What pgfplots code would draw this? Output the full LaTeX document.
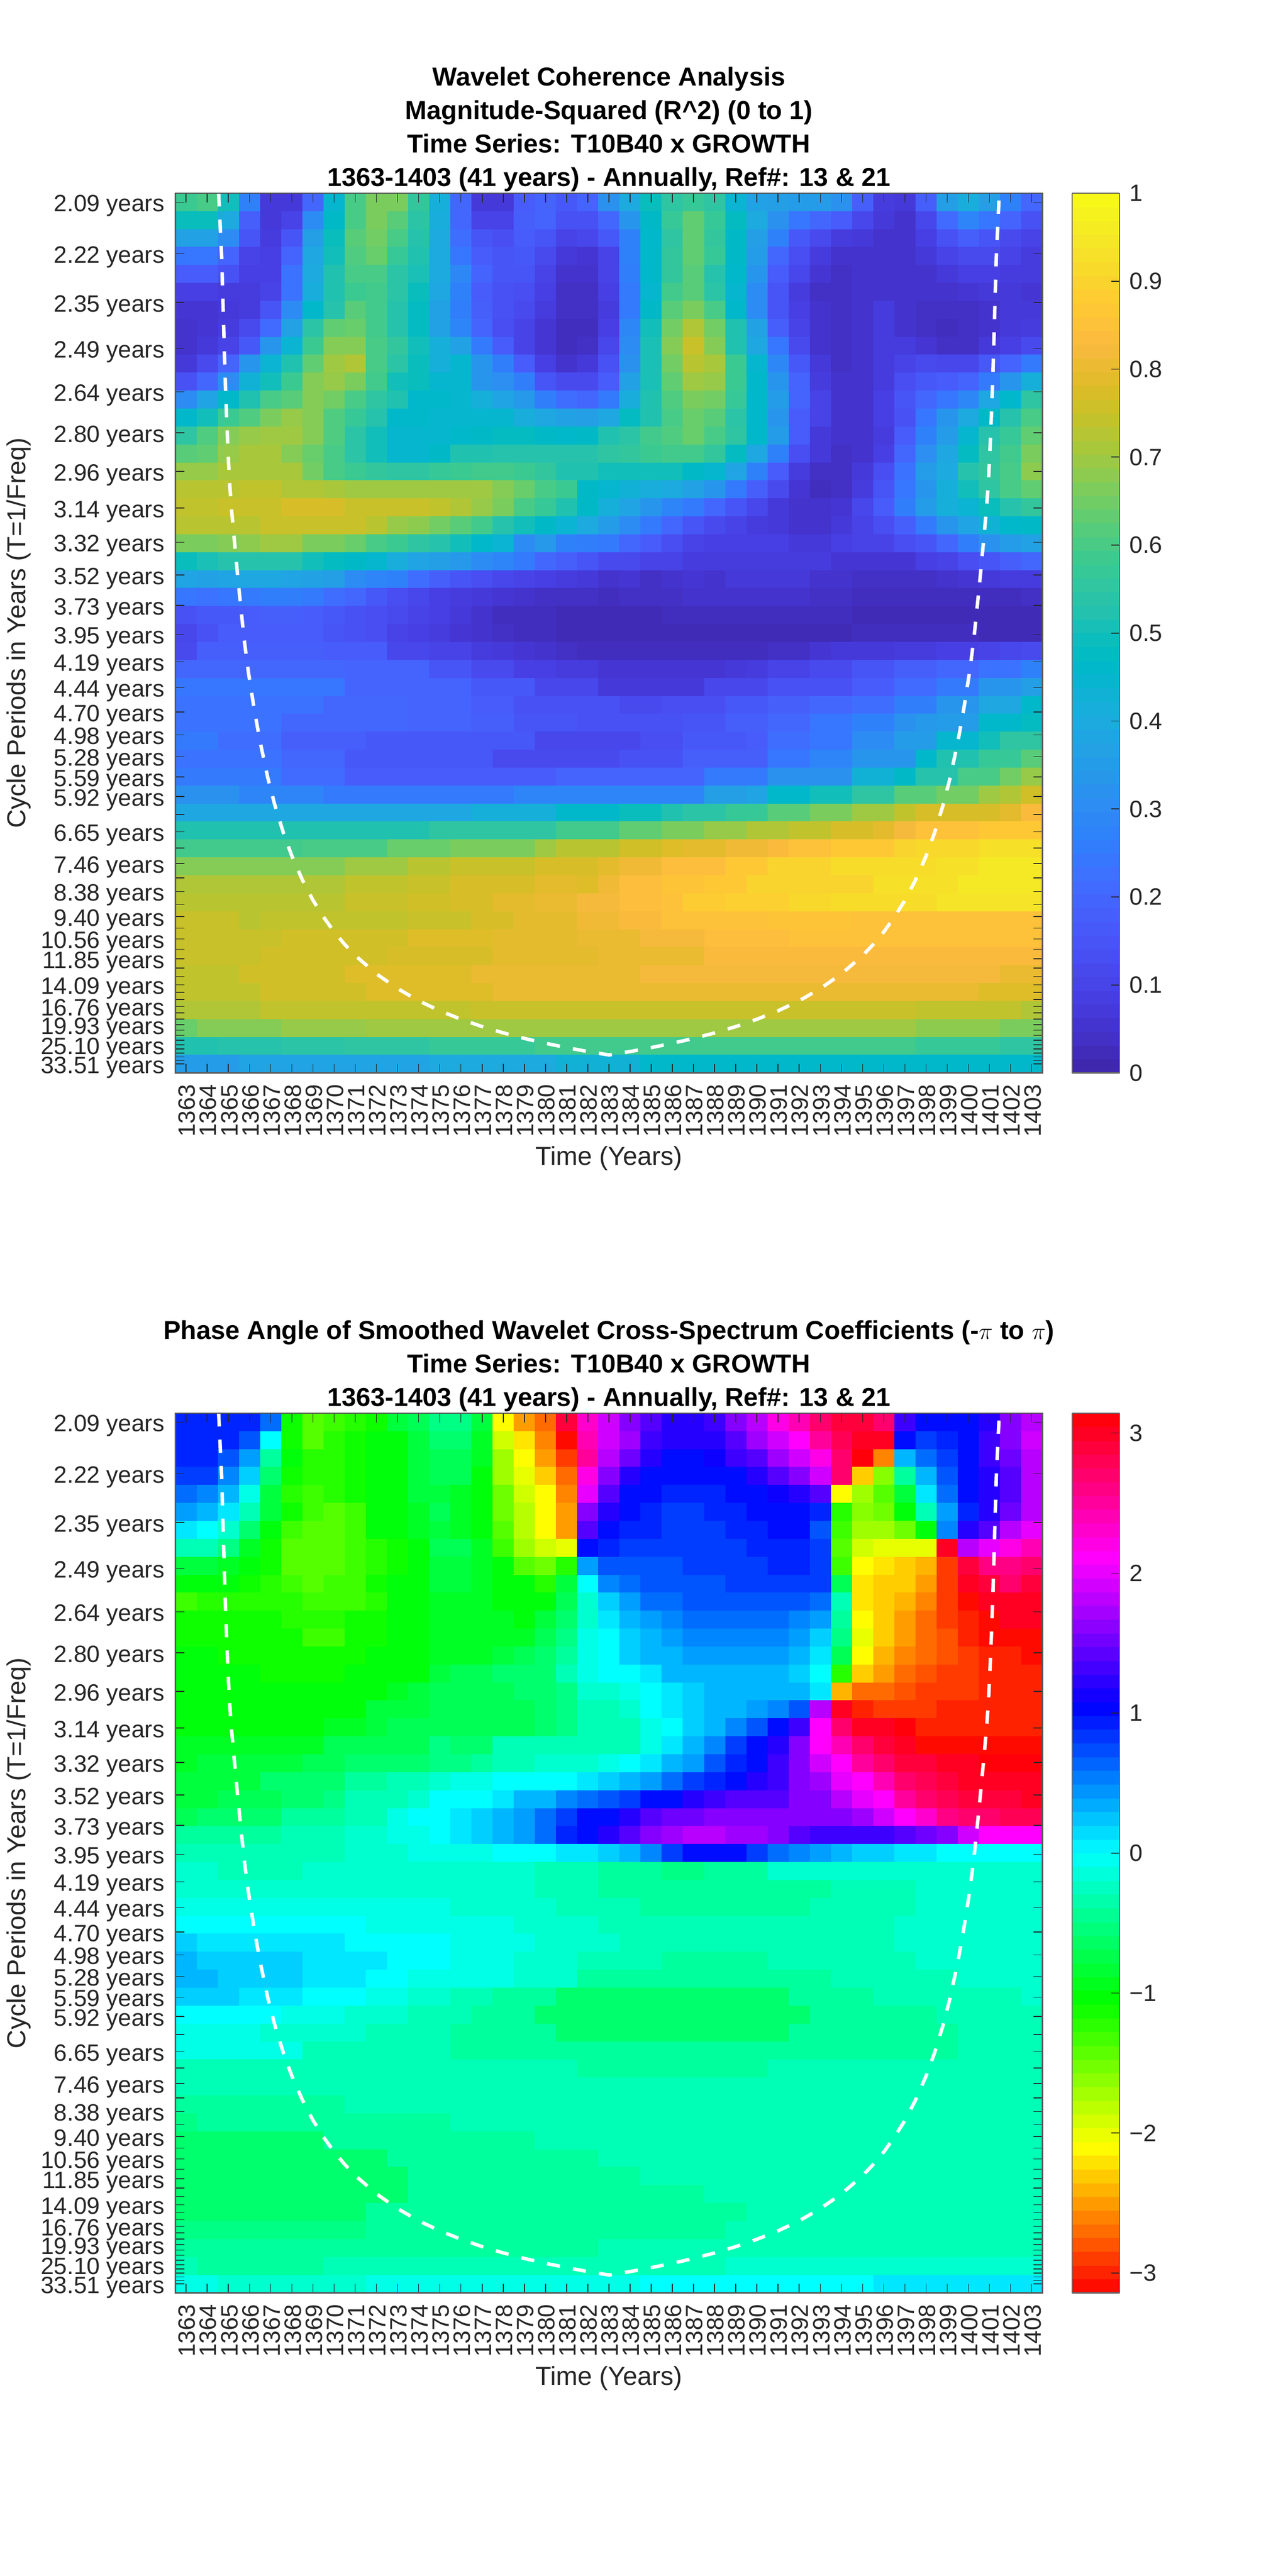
\documentclass[border=0pt]{standalone}
\usepackage{pgfplots}
\usepackage{pgfplotstable}
\usepackage{fontspec}
\setmainfont{Liberation Sans}
\pgfplotsset{compat=1.18}
\definecolor{tk}{RGB}{38,38,38}
\pgfdeclareplotmark{cell}{\pgfpathrectangle{\pgfpoint{-6.415pt}{-5.447pt}}{\pgfpoint{12.83pt}{10.894pt}}\pgfusepathqfillstroke}
\pgfplotsset{colormap={parula64}{rgb=(.2422,.1504,.6603) rgb=(.2504,.1650,.7076) rgb=(.2578,.1818,.7511) rgb=(.2647,.1978,.7952) rgb=(.2706,.2147,.8364) rgb=(.2751,.2342,.8710) rgb=(.2783,.2559,.8991) rgb=(.2803,.2782,.9221) rgb=(.2813,.3006,.9414) rgb=(.2810,.3228,.9579) rgb=(.2795,.3447,.9717) rgb=(.2760,.3667,.9829) rgb=(.2699,.3892,.9906) rgb=(.2602,.4123,.9952) rgb=(.2440,.4358,.9988) rgb=(.2206,.4603,.9973) rgb=(.1963,.4847,.9892) rgb=(.1834,.5074,.9798) rgb=(.1786,.5289,.9682) rgb=(.1764,.5499,.9520) rgb=(.1687,.5703,.9359) rgb=(.1540,.5902,.9218) rgb=(.1460,.6091,.9079) rgb=(.1380,.6276,.8973) rgb=(.1248,.6459,.8883) rgb=(.1113,.6635,.8763) rgb=(.0952,.6798,.8598) rgb=(.0689,.6948,.8394) rgb=(.0297,.7082,.8163) rgb=(.0036,.7203,.7917) rgb=(.0067,.7312,.7660) rgb=(.0433,.7411,.7394) rgb=(.0964,.7500,.7120) rgb=(.1408,.7584,.6842) rgb=(.1717,.7670,.6554) rgb=(.1938,.7758,.6251) rgb=(.2161,.7843,.5923) rgb=(.2470,.7918,.5567) rgb=(.2906,.7973,.5188) rgb=(.3406,.8008,.4789) rgb=(.3909,.8029,.4354) rgb=(.4456,.8024,.3909) rgb=(.5044,.7993,.3480) rgb=(.5616,.7942,.3045) rgb=(.6174,.7876,.2612) rgb=(.6720,.7793,.2227) rgb=(.7242,.7698,.1910) rgb=(.7738,.7598,.1646) rgb=(.8203,.7498,.1535) rgb=(.8634,.7406,.1596) rgb=(.9035,.7330,.1774) rgb=(.9393,.7288,.2100) rgb=(.9728,.7298,.2394) rgb=(.9956,.7434,.2371) rgb=(.9970,.7659,.2199) rgb=(.9952,.7893,.2028) rgb=(.9892,.8136,.1885) rgb=(.9786,.8386,.1766) rgb=(.9676,.8639,.1643) rgb=(.9610,.8890,.1537) rgb=(.9597,.9135,.1423) rgb=(.9628,.9373,.1265) rgb=(.9691,.9606,.1064) rgb=(.9769,.9839,.0805)},
colormap={hsvshift}{rgb255=(255,0,0) rgb255=(255,255,0) rgb255=(0,255,0) rgb255=(0,255,255) rgb255=(0,0,255) rgb255=(255,0,255) rgb255=(255,0,0)}}
\pgfplotstableread[header=false]{
58 60 50 27 7 7 20 45 60 66 66 56 42 20 7 7 17 19 16 19 32 40 49 55 57 55 44 37 36 35 35 32 18 8 7 18 36 41 36 27 20
49 49 40 18 7 10 30 47 60 66 62 54 41 20 10 10 18 19 14 14 20 33 47 57 63 57 48 40 32 24 20 17 11 7 5 11 21 28 24 19 14
37 37 30 15 8 15 36 49 62 65 60 53 40 22 15 13 17 15 10 11 16 27 46 55 63 56 47 36 27 16 12 8 7 5 5 9 14 18 15 12 10
24 24 19 10 9 19 39 50 61 64 57 52 40 24 17 15 16 12 7 6 10 27 46 56 63 57 47 35 20 13 8 5 5 5 5 7 10 12 12 10 8
17 17 14 9 9 23 40 52 60 60 54 51 40 29 19 15 15 10 5 5 10 26 46 56 62 53 46 33 17 11 6 4 5 5 5 5 7 9 9 8 8
9 9 8 8 10 23 41 52 58 59 54 49 39 27 17 14 13 9 4 4 9 25 45 59 62 54 45 30 15 8 4 4 5 5 5 5 5 6 7 7 6
6 6 7 8 15 30 46 53 62 59 53 48 37 26 18 14 12 8 4 4 8 25 47 62 66 60 46 30 15 9 5 4 5 8 5 4 4 4 5 7 7
5 6 8 12 21 37 54 63 64 59 53 48 37 28 19 13 10 6 3 3 9 29 50 65 72 65 52 37 18 10 5 4 5 8 5 4 3 4 5 7 8
5 7 10 16 33 44 58 67 67 60 56 50 42 37 25 17 10 6 3 4 11 30 51 67 75 67 52 39 24 12 5 4 5 8 8 6 4 4 7 9 12
7 12 19 33 44 52 63 70 72 60 54 49 42 45 33 26 17 9 5 7 14 32 51 65 73 71 58 45 29 16 7 4 5 8 10 12 11 11 16 19 25
14 20 30 43 50 58 67 69 66 59 50 49 45 45 33 31 26 15 12 12 17 37 51 63 70 69 58 46 33 19 8 5 5 8 13 16 17 19 25 33 42
30 38 46 52 60 62 67 65 60 55 52 46 46 45 42 38 34 26 22 20 25 41 52 61 66 65 57 46 35 19 10 5 5 9 15 20 24 29 39 46 55
46 50 58 61 66 69 67 61 57 53 46 46 45 45 45 45 41 39 37 36 39 48 52 60 64 62 54 46 33 17 10 5 5 9 14 24 33 40 47 53 60
55 61 67 69 70 70 67 61 54 50 45 45 45 46 47 48 48 47 46 47 52 54 59 61 64 60 55 46 35 17 7 5 5 8 17 27 35 45 53 57 63
62 63 69 71 71 67 64 60 54 50 45 45 47 52 52 53 53 53 53 53 55 56 58 59 59 56 48 39 27 13 7 4 5 9 20 31 39 48 55 59 66
69 69 71 71 71 71 65 60 58 56 55 55 57 58 59 59 58 56 52 52 50 50 50 50 47 45 38 27 17 8 4 4 7 13 23 35 40 53 56 60 68
73 73 73 74 74 72 72 71 70 70 70 70 70 70 70 67 64 60 58 47 45 43 41 40 37 33 25 18 12 6 3 4 8 15 24 33 42 50 55 60 63
74 74 75 75 75 77 77 77 75 75 75 75 74 72 69 66 60 57 52 47 42 38 33 28 25 20 15 11 7 5 5 6 11 17 26 35 42 44 49 53 56
73 73 73 73 75 75 75 75 75 73 69 68 65 62 59 53 50 47 44 40 35 30 25 20 15 12 10 8 7 5 5 7 10 13 18 25 33 38 43 46 47
66 66 67 68 70 70 66 66 64 60 58 55 53 50 46 44 30 34 27 26 25 20 17 13 10 9 9 9 9 7 7 9 10 10 13 15 20 26 32 35 37
49 51 53 53 53 53 50 48 47 45 41 38 36 34 30 28 25 20 18 15 12 12 10 10 8 8 8 8 8 8 8 6 6 6 6 9 10 13 15 18 20
38 37 38 39 39 38 37 36 30 28 27 22 18 15 13 11 10 9 8 7 5 6 4 5 6 5 7 7 7 7 5 5 4 4 4 4 5 6 7 8 8
24 23 24 25 26 26 25 22 20 16 13 11 9 8 7 6 5 4 4 4 3 4 4 4 5 5 5 5 5 5 4 4 3 3 3 3 3 3 3 3 4
14 16 16 17 18 18 17 16 14 13 12 10 9 7 5 3 3 3 2 2 2 2 2 3 3 3 3 3 3 3 3 3 2 2 2 2 2 2 2 2 2
11 14 17 17 17 17 17 15 14 13 10 9 8 6 5 4 3 3 2 2 2 2 2 2 2 2 2 2 2 2 2 2 3 3 3 3 3 3 2 2 2
12 18 18 18 18 18 18 17 17 17 11 11 10 10 8 7 6 5 4 3 3 3 3 3 3 3 3 3 4 4 6 7 7 7 8 8 9 9 10 11 12
20 20 20 20 20 20 20 20 19 19 19 19 15 15 12 12 9 9 8 8 6 6 6 6 6 6 7 8 10 10 12 12 15 15 18 18 20 20 23 23 27
24 24 24 24 24 24 24 24 19 19 19 19 19 19 16 16 16 11 11 11 7 7 7 7 7 11 11 11 14 14 14 14 17 17 21 21 25 25 33 33 36
23 23 23 23 23 23 23 20 20 20 20 19 19 19 17 17 14 14 14 14 14 12 12 13 13 13 16 16 18 18 20 20 22 22 26 26 33 33 39 39 46
23 23 23 23 23 20 20 20 20 20 20 19 19 19 18 18 15 15 15 14 14 14 14 14 15 15 18 18 20 20 24 24 27 27 32 34 35 35 46 46 48
25 25 22 22 22 18 18 18 18 16 16 16 16 16 16 16 16 11 11 11 11 11 13 13 16 16 16 17 22 22 24 24 30 30 35 35 45 45 50 55 55
23 23 23 23 23 20 20 20 16 16 16 16 16 16 16 12 12 12 12 12 12 14 14 14 18 18 18 18 24 24 28 28 33 33 33 46 52 52 57 57 62
25 25 25 25 25 21 21 21 17 17 17 17 17 17 17 17 17 17 19 19 19 19 19 19 19 25 25 25 32 32 32 32 43 43 47 53 53 60 60 65 69
32 32 32 28 28 28 28 25 25 25 25 25 25 25 25 25 28 28 28 28 28 28 28 28 28 36 36 38 46 46 50 50 55 55 62 62 65 65 70 72 76
39 39 39 39 39 39 39 39 39 39 39 39 39 39 42 42 42 42 46 46 46 49 49 52 54 54 57 57 62 62 66 66 70 70 74 77 77 77 77 79 83
52 52 52 52 52 52 52 52 52 52 52 52 55 55 55 55 55 55 59 59 59 63 63 66 66 69 69 72 72 74 74 77 77 79 82 85 85 85 87 87 87
59 59 59 59 59 59 60 60 60 60 64 64 64 66 66 66 66 70 73 73 73 76 76 78 79 79 81 81 83 85 85 87 87 87 90 91 91 91 93 93 93
67 67 67 67 67 67 67 67 70 70 70 73 73 75 75 75 75 77 77 77 79 81 81 84 84 84 87 87 90 90 90 92 92 92 92 92 93 93 95 95 95
72 72 72 72 72 72 72 72 74 74 74 75 75 77 77 77 77 79 79 78 81 84 84 86 86 87 87 90 90 90 90 90 90 93 93 93 93 95 95 95 95
73 73 73 73 73 73 73 73 75 75 75 76 76 77 77 79 79 80 80 82 82 84 84 85 88 88 89 89 89 91 91 92 92 92 92 92 94 94 94 94 94
75 75 75 73 74 74 74 74 74 74 74 75 75 75 77 77 79 79 79 81 81 83 83 85 85 85 85 85 86 86 86 86 85 85 85 85 85 85 85 85 85
75 75 75 75 75 76 76 76 76 76 76 78 78 78 78 79 79 79 79 80 80 80 82 82 82 84 84 84 84 85 85 85 85 85 85 85 85 85 85 85 85
75 75 75 75 76 76 76 76 76 76 77 77 77 77 77 79 79 79 79 79 80 80 80 80 80 83 83 83 83 83 83 83 83 83 83 83 83 83 83 83 83
74 74 74 76 76 76 76 76 78 78 78 78 78 78 80 80 80 80 80 80 80 80 82 82 82 82 82 82 82 82 82 82 82 82 82 82 82 82 82 80 80
74 74 74 74 76 76 76 76 76 78 78 78 78 78 78 80 80 80 80 80 80 80 80 80 80 80 80 80 80 80 80 80 80 80 80 80 80 80 78 78 78
72 72 72 72 74 74 74 74 74 74 74 74 74 74 75 75 75 75 75 75 75 75 75 75 75 75 75 75 75 75 75 75 75 75 75 74 74 74 74 74 72
64 67 67 67 67 69 69 69 69 70 70 70 70 70 70 70 70 70 70 70 70 70 70 70 70 70 70 70 70 70 70 70 70 70 70 68 68 68 68 66 66
52 52 53 53 53 54 54 54 55 55 55 55 57 57 57 57 57 59 59 59 59 59 59 59 59 59 59 59 59 59 59 59 59 59 59 57 57 57 57 55 55
35 35 35 38 38 38 38 38 38 38 38 38 40 40 40 40 40 40 43 43 43 43 46 46 46 46 46 46 46 46 46 46 46 46 46 46 46 46 46 46 46
}\mtxA
\pgfplotstableread[header=false]{
9 9 9 9 6 -11 -14 -13 -12 -11 -8 -7 -5 -5 -8 -21 -25 -27 29 23 19 16 14 12 12 13 16 18 22 24 27 29 29 27 13 10 10 10 12 16 18
9 9 9 7 0 -11 -14 -12 -11 -10 -10 -8 -6 -6 -9 -19 -22 -26 -31 24 19 17 13 12 12 12 14 17 19 21 25 28 30 30 10 8 9 10 13 16 19
9 9 7 4 -4 -10 -12 -12 -11 -10 -10 -8 -7 -7 -9 -17 -21 -25 -29 25 18 15 12 10 10 11 13 14 17 19 22 27 31 -26 3 6 8 10 13 15 18
8 8 5 2 -6 -11 -12 -12 -11 -10 -10 -8 -7 -7 -10 -17 -20 -23 -27 22 16 12 10 10 10 10 10 12 14 16 19 27 -23 -16 -4 3 7 10 12 14 18
6 5 3 -1 -8 -12 -13 -12 -11 -10 -10 -8 -8 -9 -10 -15 -19 -21 -26 20 14 10 10 9 9 9 10 10 11 12 14 -21 -17 -14 -8 1 6 10 12 14 18
4 3 1 -3 -8 -11 -13 -14 -13 -10 -10 -9 -7 -9 -10 -15 -18 -21 -25 16 12 10 9 8 8 9 9 10 10 10 9 -12 -16 -15 -10 -3 4 9 12 15 18
1 0 -2 -6 -10 -13 -14 -14 -13 -10 -10 -9 -8 -9 -10 -14 -18 -21 -25 14 10 9 9 8 8 8 9 9 10 10 7 -13 -17 -17 -15 -10 5 12 14 18 20
-3 -3 -5 -9 -11 -14 -14 -14 -13 -12 -11 -10 -7 -7 -9 -13 -17 -19 -20 10 9 8 8 8 8 8 8 9 9 9 8 -14 -19 -20 -20 -20 30 18 20 22 24
-8 -8 -9 -10 -11 -14 -14 -14 -13 -12 -11 -10 -8 -8 -9 -10 -14 -15 -12 4 7 7 7 7 8 8 8 8 9 9 8 -13 -21 -22 -23 -24 -29 29 26 26 27
-10 -10 -10 -11 -12 -13 -14 -13 -13 -11 -10 -10 -8 -8 -9 -10 -10 -12 -8 0 5 6 7 7 7 7 8 8 8 8 8 -7 -22 -23 -23 -25 -29 30 29 27 29
-13 -12 -12 -12 -12 -12 -13 -13 -13 -12 -10 -10 -9 -9 -9 -10 -10 -10 -7 -2 2 4 6 6 7 7 7 7 7 7 6 -3 -22 -23 -24 -26 -29 -31 30 30 30
-11 -11 -11 -11 -11 -12 -12 -12 -11 -11 -10 -10 -9 -9 -9 -9 -10 -8 -6 -2 1 3 4 5 6 6 6 6 6 5 4 -4 -21 -23 -25 -27 -29 -30 -31 30 30
-11 -11 -11 -11 -11 -11 -13 -13 -11 -11 -10 -10 -9 -9 -9 -9 -9 -7 -5 -1 0 2 3 4 5 5 5 5 5 4 2 -5 -20 -23 -25 -27 -28 -30 -31 -31 -31
-10 -10 -11 -11 -11 -11 -11 -11 -11 -10 -10 -10 -9 -9 -9 -8 -7 -6 -4 -1 0 2 3 3 4 4 4 4 4 3 1 -7 -21 -24 -26 -27 -28 -29 -30 -30 -31
-10 -10 -10 -10 -11 -11 -11 -11 -10 -10 -10 -10 -8 -7 -7 -6 -6 -6 -3 -1 0 0 1 3 3 3 3 3 3 2 0 -12 -23 -25 -27 -28 -29 -29 -30 -30 -30
-10 -10 -10 -10 -10 -10 -10 -10 -10 -10 -9 -8 -7 -7 -7 -7 -6 -6 -5 -2 -2 -1 0 1 2 3 3 3 3 3 1 -24 -27 -27 -28 -29 -29 -29 -30 -30 -30
-10 -10 -10 -10 -10 -10 -10 -10 -10 -8 -8 -8 -7 -7 -7 -7 -7 -6 -5 -3 -3 -2 0 1 2 3 3 4 5 7 18 30 -30 -29 -29 -29 -30 -30 -30 -30 -30
-10 -10 -10 -10 -10 -10 -10 -9 -9 -8 -7 -7 -7 -7 -7 -7 -7 -6 -5 -3 -3 -3 -1 0 2 3 5 7 10 13 21 27 30 30 31 -30 -30 -30 -30 -30 -30
-9 -9 -9 -9 -9 -9 -9 -7 -7 -7 -7 -7 -5 -6 -6 -3 -3 -3 -3 -3 -3 -3 -1 1 3 5 8 10 12 16 21 24 27 29 30 -31 -31 -31 -31 -31 -31
-9 -8 -8 -8 -8 -8 -7 -7 -6 -6 -6 -6 -5 -5 -4 -3 -3 -2 -2 -2 -1 0 1 3 4 7 9 10 13 16 19 21 25 27 29 29 30 30 31 31 31
-8 -8 -8 -8 -6 -6 -6 -6 -4 -4 -3 -3 -2 -1 -1 0 0 0 0 1 2 3 4 6 8 9 10 12 13 16 17 20 21 24 27 28 29 30 30 30 30
-8 -8 -7 -7 -7 -6 -6 -5 -3 -3 -3 -2 0 0 0 1 3 3 5 6 7 8 10 10 12 13 14 14 14 16 16 18 20 21 25 27 28 29 29 29 30
-7 -6 -6 -6 -6 -4 -4 -4 -3 -3 -1 0 0 1 2 3 4 6 8 10 10 12 14 15 15 16 16 16 16 16 16 16 17 19 21 23 26 27 27 28 28
-4 -4 -4 -4 -4 -3 -3 -3 -2 -2 -1 -1 0 1 2 3 4 6 9 10 12 14 16 17 18 18 17 17 16 14 13 13 13 13 14 15 16 19 21 21 21
-3 -3 -3 -3 -3 -3 -3 -3 -2 -2 -2 -1 -1 -1 -1 0 0 0 1 1 2 3 5 8 10 10 10 8 6 5 4 3 2 2 1 1 0 0 0 0 0
-2 -2 -3 -3 -3 -3 -2 -2 -2 -2 -2 -2 -2 -2 -2 -2 -2 -3 -3 -3 -4 -4 -4 -5 -5 -4 -4 -4 -2 -2 -2 -2 -2 -2 -2 -2 -2 -2 -2 -2 -2
-2 -2 -2 -2 -2 -2 -2 -2 -2 -2 -2 -2 -2 -2 -2 -2 -2 -3 -3 -3 -4 -4 -4 -4 -4 -4 -4 -4 -4 -4 -4 -3 -3 -3 -3 -2 -2 -2 -2 -2 -2
-1 -1 -1 -1 -1 -1 -1 -1 -1 -1 -1 -1 -1 -2 -2 -2 -2 -2 -3 -3 -3 -3 -4 -4 -4 -4 -4 -4 -4 -4 -3 -3 -3 -3 -3 -2 -2 -2 -2 -2 -2
0 0 0 0 0 0 0 0 0 -1 -1 -1 -1 -1 -1 -1 -2 -2 -2 -2 -3 -3 -3 -3 -3 -3 -3 -3 -3 -3 -3 -3 -3 -3 -2 -2 -2 -2 -2 -2 -2
2 1 1 1 1 1 1 1 0 0 0 0 0 -1 -1 -1 -1 -2 -2 -2 -2 -3 -3 -3 -3 -3 -3 -3 -3 -3 -3 -3 -3 -3 -2 -2 -2 -2 -2 -2 -2
3 2 2 2 2 2 1 1 1 1 0 0 0 -1 -1 -1 -2 -2 -2 -3 -3 -3 -3 -4 -4 -4 -4 -4 -3 -3 -3 -3 -3 -3 -3 -2 -2 -2 -2 -2 -2
3 3 2 2 2 2 1 1 1 0 0 -1 -1 -1 -1 -1 -2 -2 -2 -4 -4 -4 -4 -4 -4 -4 -4 -4 -4 -4 -4 -3 -3 -3 -3 -3 -3 -2 -2 -2 -2
2 2 2 1 1 1 0 0 0 -1 -1 -2 -2 -3 -3 -4 -4 -4 -6 -6 -6 -6 -6 -6 -6 -6 -6 -6 -6 -4 -4 -4 -4 -3 -3 -3 -3 -3 -3 -3 -2
0 0 0 0 0 -1 -1 -1 -2 -2 -2 -3 -3 -3 -4 -4 -4 -6 -6 -6 -6 -6 -6 -6 -6 -6 -6 -6 -6 -6 -4 -4 -4 -4 -4 -4 -3 -3 -3 -3 -3
-1 -1 -1 -1 -2 -2 -2 -2 -2 -3 -3 -3 -3 -4 -4 -4 -4 -4 -6 -6 -6 -6 -6 -6 -6 -6 -6 -6 -6 -4 -4 -4 -4 -4 -4 -4 -4 -3 -3 -3 -3
-1 -1 -1 -1 -1 -1 -3 -3 -3 -3 -3 -3 -3 -4 -4 -4 -4 -4 -4 -4 -4 -4 -4 -4 -4 -4 -4 -4 -4 -4 -4 -4 -4 -4 -4 -4 -4 -3 -3 -3 -3
-3 -3 -3 -3 -3 -3 -3 -3 -3 -3 -3 -3 -3 -3 -3 -3 -3 -3 -3 -4 -4 -4 -4 -4 -4 -4 -4 -4 -3 -3 -3 -3 -3 -3 -3 -3 -3 -3 -3 -3 -3
-3 -3 -3 -3 -3 -3 -3 -3 -3 -3 -3 -3 -3 -3 -3 -3 -3 -3 -3 -3 -3 -3 -3 -3 -3 -3 -3 -3 -3 -3 -3 -3 -3 -3 -3 -3 -3 -3 -3 -3 -3
-4 -4 -4 -4 -4 -4 -4 -4 -3 -3 -3 -3 -3 -3 -3 -3 -3 -3 -3 -3 -3 -3 -3 -3 -3 -3 -3 -3 -3 -3 -3 -3 -3 -3 -3 -3 -3 -3 -3 -3 -3
-5 -4 -4 -4 -4 -4 -4 -4 -4 -4 -4 -4 -4 -3 -3 -3 -3 -3 -3 -3 -3 -3 -3 -3 -3 -3 -3 -3 -3 -3 -3 -3 -3 -3 -3 -3 -3 -3 -3 -3 -3
-6 -6 -6 -6 -6 -6 -6 -4 -4 -4 -4 -4 -4 -4 -4 -4 -4 -3 -3 -3 -3 -3 -3 -3 -3 -3 -3 -3 -3 -3 -3 -3 -3 -3 -3 -3 -3 -3 -3 -3 -3
-6 -6 -6 -6 -6 -6 -6 -6 -6 -6 -4 -4 -4 -4 -4 -4 -4 -4 -4 -4 -3 -3 -3 -3 -3 -3 -3 -3 -3 -3 -3 -3 -3 -3 -3 -3 -3 -3 -3 -3 -3
-6 -6 -6 -6 -6 -6 -6 -6 -6 -6 -6 -4 -4 -4 -4 -4 -4 -4 -4 -4 -4 -4 -3 -3 -3 -3 -3 -3 -3 -3 -3 -3 -3 -3 -3 -3 -3 -3 -3 -3 -3
-6 -6 -6 -6 -6 -6 -6 -6 -6 -6 -6 -4 -4 -4 -4 -4 -4 -4 -4 -4 -4 -4 -4 -4 -4 -3 -3 -3 -3 -3 -3 -3 -3 -3 -3 -3 -3 -3 -3 -3 -3
-6 -6 -6 -6 -6 -6 -6 -6 -6 -4 -4 -4 -4 -4 -4 -4 -4 -4 -4 -4 -4 -4 -4 -4 -4 -4 -4 -3 -3 -3 -3 -3 -3 -3 -3 -3 -3 -3 -3 -3 -3
-5 -5 -5 -5 -5 -5 -5 -5 -5 -4 -4 -4 -4 -4 -4 -4 -4 -4 -4 -4 -4 -4 -4 -4 -4 -4 -3 -3 -3 -3 -3 -3 -3 -3 -3 -3 -3 -3 -3 -3 -3
-4 -4 -4 -4 -4 -4 -4 -4 -4 -4 -4 -4 -4 -4 -4 -4 -4 -4 -4 -4 -3 -3 -3 -3 -3 -3 -3 -3 -3 -3 -3 -3 -3 -3 -3 -3 -3 -3 -3 -3 -3
-3 -4 -4 -4 -4 -4 -4 -3 -3 -3 -3 -3 -3 -3 -3 -3 -3 -3 -3 -3 -3 -3 -3 -3 -3 -3 -2 -2 -2 -2 -2 -2 -2 -2 -2 -2 -2 -2 -2 -2 -2
-1 -1 -2 -2 -2 -2 -2 -2 -2 -1 -1 -1 -1 -1 -1 -1 -1 -1 -1 -1 -1 -1 0 0 0 0 0 0 0 0 0 0 0 1 1 1 1 1 1 1 1
}\mtxB
\pgfplotstableread{
x y
1364.54 -0.5
1364.62 1.5
1364.68 3
1364.73 5
1364.79 7.5
1364.84 9.5
1364.90 11.5
1364.97 13.5
1365.05 15.5
1365.14 17
1365.24 18.3
1365.35 19.7
1365.47 21.2
1365.60 22.7
1365.75 24.4
1365.95 26.2
1366.23 28.3
1366.5 30.05
1366.86 32.04
1367.19 33.55
1367.6 35.12
1368 36.41
1368.5 37.75
1369 38.88
1369.5 39.82
1370 40.64
1370.5 41.34
1371 41.96
1372 42.98
1373 43.8
1374 44.48
1375 45.04
1376 45.51
1377 45.92
1378 46.27
1379 46.58
1380 46.85
1381 47.09
1382 47.31
1383 47.5
1384 47.31
1385 47.09
1386 46.85
1387 46.58
1388 46.27
1389 45.92
1390 45.51
1391 45.04
1392 44.48
1393 43.8
1394 42.98
1395 41.96
1395.5 41.34
1396 40.64
1396.5 39.82
1397 38.88
1397.5 37.75
1398 36.41
1398.4 35.12
1398.81 33.55
1399.14 32.04
1399.5 30.05
1399.77 28.3
1400.05 26.2
1400.25 24.4
1400.40 22.7
1400.53 21.2
1400.65 19.7
1400.76 18.3
1400.86 17
1400.95 15.5
1401.03 13.5
1401.1 11.5
1401.16 9.5
1401.21 7.5
1401.27 5
1401.32 3
1401.38 1.5
1401.46 -0.5
}\coi
\pgfplotsset{
 panel/.style={
  scale only axis, width=526pt, height=533.75pt,
  anchor=south west, axis on top, clip mode=individual,
  xmin=1362.5, xmax=1403.5, ymin=-0.5, ymax=48.5, y dir=reverse,
  xtick={1363,1364,...,1403},
  xticklabels={1363,1364,1365,1366,1367,1368,1369,1370,1371,1372,1373,1374,1375,1376,1377,1378,1379,1380,1381,1382,1383,1384,1385,1386,1387,1388,1389,1390,1391,1392,1393,1394,1395,1396,1397,1398,1399,1400,1401,1402,1403},
  ytick={0,2.873,5.586,8.146,10.562,12.843,14.995,17.027,18.945,20.755,22.463,24.077,25.599,27.036,28.392,29.672,30.880,32.020,33.097,34.113,35.072,35.976,36.831,37.638,38.398,39.117,39.795,40.435,41.039,41.610,42.148,42.655,43.135,43.588,44.015,44.418,44.799,45.158,45.497,45.816,46.119,46.404,46.673,46.927,47.166,47.393,47.606,47.807,48},
  yticklabels={2.09 years,2.22 years,2.35 years,2.49 years,2.64 years,2.80 years,2.96 years,3.14 years,3.32 years,3.52 years,3.73 years,3.95 years,4.19 years,4.44 years,4.70 years,4.98 years,5.28 years,5.59 years,5.92 years,{},6.65 years,{},7.46 years,{},8.38 years,{},9.40 years,{},10.56 years,{},11.85 years,{},{},14.09 years,{},{},16.76 years,{},{},19.93 years,{},{},{},25.10 years,{},{},{},{},33.51 years},
  tick align=inside, major tick length=5.5pt,
  tick style={draw=tk,line width=.5pt},
  axis line style={draw=black!65,line width=.75pt},
  tick label style={font=\fontsize{14.35}{16}\selectfont,text=tk},
  xticklabel style={yshift=-6.7pt,xshift=.6pt,rotate=90,anchor=east,inner sep=0pt},
  yticklabel style={xshift=-6.5pt,yshift=-2.2pt,anchor=east,inner sep=0pt},
  xlabel={Time (Years)}, ylabel={Cycle Periods in Years (T=1/Freq)},
  label style={font=\fontsize{15.75}{18}\selectfont,text=tk},
  xlabel style={at={(axis description cs:0.5,-0.0974)},anchor=center},
  ylabel style={at={(axis description cs:-0.1806,0.5)},anchor=center},
  title style={at={(axis description cs:0.5,1)},anchor=south,align=center,inner sep=0pt,yshift=-5.3pt,font=\fontsize{15.75}{20.3}\selectfont\bfseries,text=black},
  colorbar sampled,
  cellplot/.style={scatter,only marks,mark=cell,scatter/use mapped color={draw=mapped color,fill=mapped color},mark options={line width=.12pt},scatter src=explicit,forget plot},
 },
 cbar/.style={at={(1.0342,1)},anchor=north west,samples=65,width=28.75pt,height=533.75pt,
  tick align=inside,ytick pos=right,yticklabel pos=right,major tick length=5pt,
  tick style={draw=tk,line width=.5pt},axis line style={draw=black!60,line width=.7pt},
  yticklabel style={font=\fontsize{14.35}{16}\selectfont,text=tk,anchor=west,inner sep=0pt,xshift=6pt},
  xtick=\empty}
}
\begin{document}
\begin{tikzpicture}
\path[use as bounding box] (0,0) rectangle (781.25pt,1563pt);
\begin{axis}[panel,at={(106.5pt,912pt)},colormap name=parula64,point meta min=0,point meta max=1,
 title={Wavelet Coherence Analysis\\Magnitude-Squared (R\^{}2) (0 to 1)\\Time Series: T10B40 x GROWTH\\1363-1403 (41 years) - Annually, Ref\#: 13 \& 21},
 colorbar style={cbar,ytick={0,0.1,0.2,0.3,0.4,0.5,0.6,0.7,0.8,0.9,1},yticklabels={0,0.1,0.2,0.3,0.4,0.5,0.6,0.7,0.8,0.9,1}}]
\pgfplotsinvokeforeach{0,...,40}{
 \addplot[cellplot] table[x expr={1363+#1},y expr=\coordindex,meta expr={\thisrowno{#1}/100}] {\mtxA};
}
\addplot[white,line width=2.1pt,dash pattern=on 8pt off 8pt,forget plot] table[x=x,y=y] {\coi};
\end{axis}
\begin{axis}[panel,at={(106.5pt,171.75pt)},colormap name=hsvshift,point meta min=-3.14159,point meta max=3.14159,
 title={Phase Angle of Smoothed Wavelet Cross-Spectrum Coefficients (-$\pi$ to $\pi$)\\Time Series: T10B40 x GROWTH\\1363-1403 (41 years) - Annually, Ref\#: 13 \& 21},
 colorbar style={cbar,ytick={-3,-2,-1,0,1,2,3},yticklabels={−3,−2,−1,0,1,2,3}}]
\pgfplotsinvokeforeach{0,...,40}{
 \addplot[cellplot] table[x expr={1363+#1},y expr=\coordindex,meta expr={\thisrowno{#1}/10}] {\mtxB};
}
\addplot[white,line width=2.1pt,dash pattern=on 8pt off 8pt,forget plot] table[x=x,y=y] {\coi};
\end{axis}
\end{tikzpicture}
\end{document}
